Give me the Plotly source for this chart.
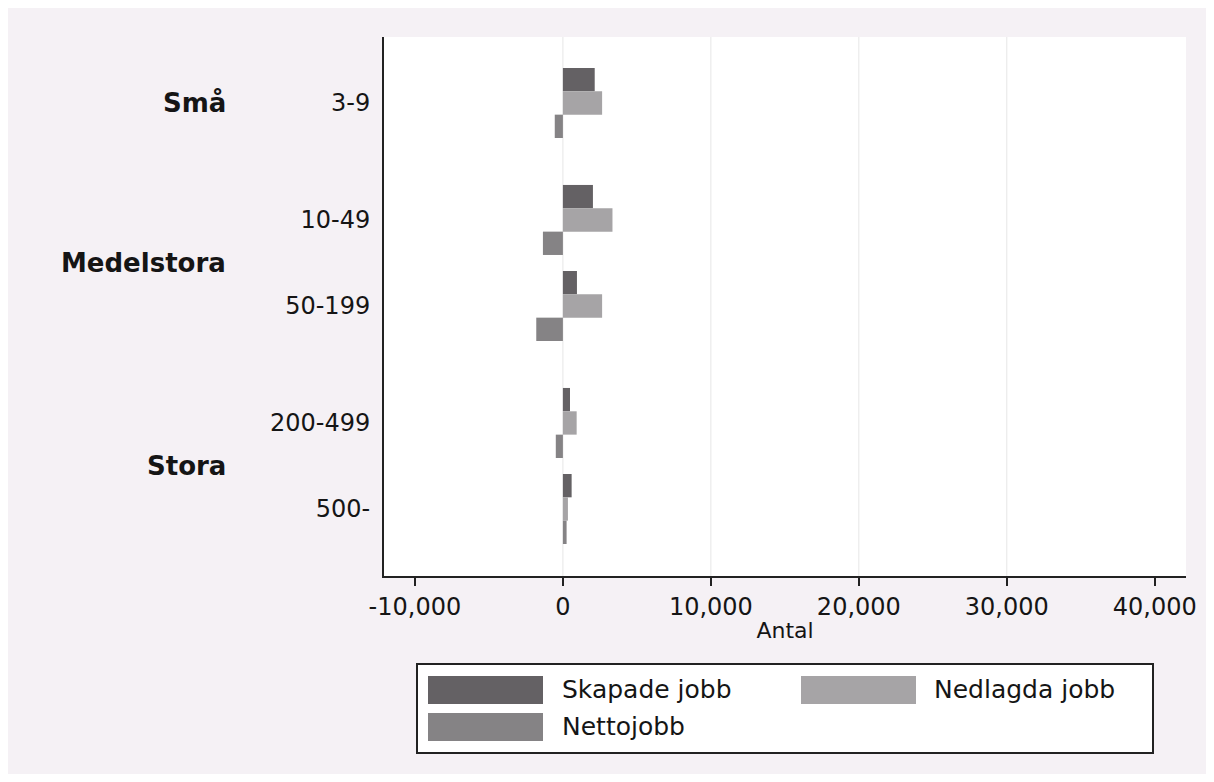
import plotly.graph_objects as go

# ---- data ----
categories = ["3-9", "10-49", "50-199", "200-499", "500-"]
group_names = ["Små", "Medelstora", "Stora"]
group_index = [0, 1, 1, 2, 2]
skapade = [2150, 2030, 950, 480, 590]
nedlagda = [2650, 3350, 2650, 930, 340]
netto = [-550, -1350, -1800, -480, 250]
series_names = ["Skapade jobb", "Nedlagda jobb", "Nettojobb"]
series_colors = ["#646164", "#a6a4a6", "#858385"]
x_tick_vals = [-10000, 0, 10000, 20000, 30000, 40000]
x_tick_labels = ["-10,000", "0", "10,000", "20,000", "30,000", "40,000"]

# ---- layout helpers (page pixel coordinates; page body has 8px margin) ----
OX, OY = 8, 8
W, H = 1206, 766
L, R, T, B = 384, 1186, 37, 576
group_gap = 0.36
positions = [i + g * group_gap for i, g in enumerate(group_index)]

def px(x):
    return (x - L) / (R - L)

def py(y):
    return (B - y) / (B - T)

FONT = "DejaVu Sans"
TXT = "#151515"

fig = go.Figure()
for name, vals, col in zip(series_names, [skapade, nedlagda, netto], series_colors):
    fig.add_trace(go.Bar(
        y=positions, x=vals, name=name, orientation="h",
        marker=dict(color=col, line=dict(width=0)), showlegend=False,
    ))

shapes = []
# grid lines (inner ticks only)
for v in x_tick_vals[1:-1]:
    shapes.append(dict(type="line", xref="x", yref="paper", x0=v, x1=v, y0=0, y1=1,
                       line=dict(color="#e6e6e6", width=1), layer="below"))
# legend box
shapes.append(dict(type="rect", xref="paper", yref="paper", x0=px(417), x1=px(1153), y0=py(753), y1=py(664),
                   fillcolor="white", line=dict(color="#222", width=2)))
legend_pos = [(428, 676, 560, 689.5), (801, 676, 932, 689.5), (428, 713, 560, 727)]
annotations = []
for (sx, sy, tx, ty), name, col in zip(legend_pos, series_names, series_colors):
    shapes.append(dict(type="rect", xref="paper", yref="paper", x0=px(sx), x1=px(sx + 115),
                       y0=py(sy + 28), y1=py(sy), fillcolor=col, line=dict(width=0)))
    annotations.append(dict(xref="paper", yref="paper", x=px(tx), y=py(ty), text=name, showarrow=False,
                            xanchor="left", yanchor="middle", font=dict(family=FONT, size=25, color=TXT)))

# group labels
for gi, gname in enumerate(group_names):
    ps = [p for p, g in zip(positions, group_index) if g == gi]
    annotations.append(dict(xref="paper", yref="y", x=px(228), y=sum(ps) / len(ps), text="<b>" + gname + "</b>",
                            showarrow=False, xanchor="right", yanchor="middle",
                            font=dict(family=FONT, size=26, color=TXT)))

fig.update_layout(
    width=W, height=H,
    margin=dict(l=L - OX, r=(OX + W) - R, t=T - OY, b=(OY + H) - B, pad=0),
    paper_bgcolor="#f5f1f5", plot_bgcolor="white",
    barmode="group", bargap=0.186, bargroupgap=0,
    shapes=shapes, annotations=annotations,
    font=dict(family=FONT, color=TXT),
    xaxis=dict(range=[-12090, 42110], tickvals=x_tick_vals, ticktext=x_tick_labels,
               showgrid=False, zeroline=False, showline=True, linecolor="#222", linewidth=2,
               ticks="outside", ticklen=8, tickwidth=2, tickcolor="#222",
               tickfont=dict(family=FONT, size=24, color=TXT),
               title=dict(text="Antal", font=dict(family=FONT, size=22, color=TXT), standoff=3)),
    yaxis=dict(range=[positions[-1] + 0.779, positions[0] - 0.767], tickvals=positions, ticktext=categories,
               showgrid=False, zeroline=False, showline=True, linecolor="#222", linewidth=2,
               ticks="", ticklabelstandoff=7,
               tickfont=dict(family=FONT, size=24, color=TXT)),
)

fig.write_html("out.html")
